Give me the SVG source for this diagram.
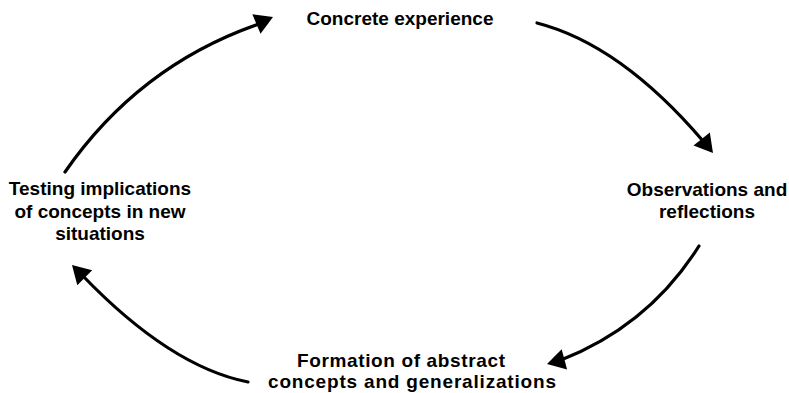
<svg xmlns="http://www.w3.org/2000/svg" xmlns:xlink="http://www.w3.org/1999/xlink" width="789" height="393" viewBox="0 0 789 393">
<style>
.lbl{font-family:"Liberation Sans",Arial,sans-serif;font-weight:bold;font-size:19px;fill:#000;text-anchor:middle}
.arc{fill:none;stroke:#000;stroke-width:3.2;stroke-linecap:round}
.head{fill:#000}
</style>
<defs>
<path id="head" class="head" d="M0,0 L-18,-10.5 L-18,10.5 Z"/>
</defs>
<rect width="789" height="393" fill="#fff"/>
<g id="connectors">
<path class="arc" d="M65,172 Q139,65.5 259,24"/>
<use xlink:href="#head" transform="translate(273,17) rotate(-23)"/>
<path class="arc" d="M537,23 Q620.5,44.5 703,141"/>
<use xlink:href="#head" transform="translate(713,153) rotate(51)"/>
<path class="arc" d="M699,246 Q649,325.5 561,360"/>
<use xlink:href="#head" transform="translate(547,364) rotate(165)"/>
<path class="arc" d="M248,382 Q170.25,366.75 82,275"/>
<use xlink:href="#head" transform="translate(72,265) rotate(-135)"/>
</g>
<g id="concrete">
<text class="lbl" x="400" y="25">Concrete experience</text>
</g>
<g id="observations">
<text class="lbl" x="707" y="196">Observations and</text>
<text class="lbl" x="707" y="218">reflections</text>
</g>
<g id="formation">
<text class="lbl" x="401" y="367" textLength="208" lengthAdjust="spacing">Formation of abstract</text>
<text class="lbl" x="412" y="388" textLength="288" lengthAdjust="spacing">concepts and generalizations</text>
</g>
<g id="testing">
<text class="lbl" x="100" y="195">Testing implications</text>
<text class="lbl" x="100" y="218">of concepts in new</text>
<text class="lbl" x="100" y="240">situations</text>
</g>
</svg>
